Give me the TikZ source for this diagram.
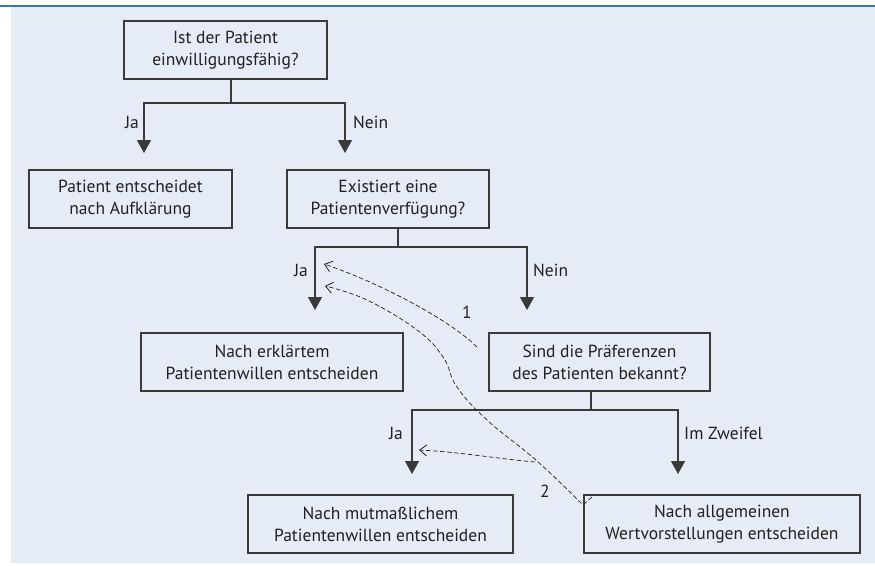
\documentclass[tikz,border=0pt]{standalone}
\usepackage{fontspec}
\setmainfont{PT Sans}
\usetikzlibrary{arrows.meta}
\definecolor{bgblue}{HTML}{E5ECF6}
\definecolor{topblue}{HTML}{2F77BD}
\definecolor{ink}{HTML}{231F20}
\definecolor{linegray}{HTML}{3A3A3A}
\begin{document}
\begin{tikzpicture}[x=1pt,y=-1pt,
  txt/.style={text=ink, font=\fontsize{17.5}{22}\selectfont},
  box/.style={txt, draw=linegray, line width=1.3pt, align=center, inner sep=0pt, minimum height=58pt},
  lbl/.style={txt, inner sep=0pt},
  link/.style={draw=linegray, line width=1.3pt},
  arr/.style={link, -{Triangle[width=14pt,length=13pt]}},
  hint/.style={draw=ink, line width=0.7pt, dash pattern=on 4.5pt off 2.5pt, -{Straight Barb[length=7pt,width=11pt,line width=0.8pt]}}]
\path[use as bounding box] (0,0) rectangle (875,565);
\fill[bgblue] (11,7) rectangle (875,563);
\draw[topblue, line width=2pt] (0,6) -- (875,6);

% boxes
\node[box, minimum width=203pt] (b1) at (225.5,50) {Ist der Patient\\einwilligungsfähig?};
\node[box, minimum width=203pt] (b2) at (130.5,199) {Patient entscheidet\\nach Aufklärung};
\node[box, minimum width=202pt] (b3) at (388,199) {Existiert eine\\Patientenverfügung?};
\node[box, minimum width=262pt] (b4) at (272,362) {Nach erklärtem\\Patientenwillen entscheiden};
\node[box, minimum width=221pt] (b5) at (599.5,362) {Sind die Präferenzen\\des Patienten bekannt?};
\node[box, minimum width=265pt] (b6) at (380.5,524) {Nach mutmaßlichem\\Patientenwillen entscheiden};
\node[box, minimum width=276pt] (b7) at (722,524) {Nach allgemeinen\\Wertvorstellungen entscheiden};

% fork 1
\coordinate (f1) at (231,103);
\coordinate (t1l) at (144,153);
\coordinate (t1r) at (345,153);
\draw[link] (b1.south -| f1) -- (f1);
\draw[arr] (f1) -| (t1l);
\draw[arr] (f1) -| (t1r);
\node[lbl, anchor=east] (ja1) at (139,122) {Ja};
\node[lbl, anchor=west] (nein1) at (353,122) {Nein};

% fork 2
\coordinate (f2) at (398,247);
\coordinate (t2l) at (315,310);
\coordinate (t2r) at (527,310);
\draw[link] (b3.south -| f2) -- (f2);
\draw[arr] (f2) -| (t2l);
\draw[arr] (f2) -| (t2r);
\node[lbl, anchor=east] (ja2) at (308,270) {Ja};
\node[lbl, anchor=west] (nein2) at (533,270) {Nein};

% fork 3
\coordinate (f3) at (591,410);
\coordinate (t3l) at (412,474);
\coordinate (t3r) at (678,474);
\draw[link] (b5.south -| f3) -- (f3);
\draw[arr] (f3) -| (t3l);
\draw[arr] (f3) -| (t3r);
\node[lbl, anchor=east] (ja3) at (403,433) {Ja};
\node[lbl, anchor=west] (zw3) at (684,433) {Im Zweifel};

% dashed hints
\coordinate (h1s) at (477,347);
\coordinate (h1e) at (324,264);
\draw[hint] (h1s) .. controls (450,320) and (380,283) .. (h1e);
\node[lbl] (n1) at (467,312) {1};

\coordinate (h2k) at (592,497);
\coordinate (h2s) at (583,505);
\coordinate (h2e) at (325,286);
\draw[hint] (h2k) -- plot[smooth, tension=0.7] coordinates {(h2s) (537,461) (487,420) (457,387) (443,357) (417,330) (367,300) (h2e)};

\coordinate (h3s) at (535,462);
\coordinate (h3e) at (419,450);
\draw[hint] (h3s) .. controls (500,459) and (460,452) .. (h3e);
\node[lbl] (n2) at (545,491) {2};
\end{tikzpicture}
\end{document}
